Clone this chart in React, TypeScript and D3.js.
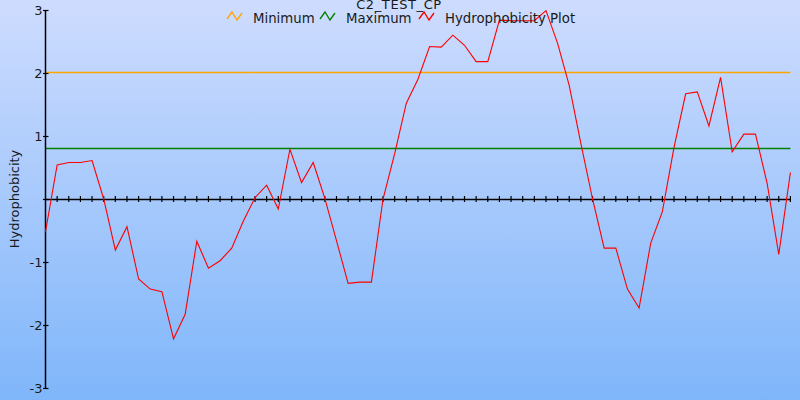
import React from "react";
import * as d3 from "d3";

const title = "C2_TEST_CP";
const yLabel = "Hydrophobicity";
const legendNames = ["Minimum", "Maximum", "Hydrophobicity Plot"];
const minimumValue = 2.0;
const maximumValue = 0.8;
const hydrophobicity = [
  -0.52, 0.54, 0.58, 0.58, 0.61, 0.0, -0.81, -0.44, -1.27, -1.43,
  -1.47, -2.22, -1.83, -0.67, -1.1, -0.98, -0.78, -0.35, 0.02, 0.22,
  -0.16, 0.79, 0.26, 0.58, 0.01, -0.66, -1.34, -1.32, -1.32, 0.0,
  0.72, 1.52, 1.9, 2.42, 2.41, 2.6, 2.44, 2.18, 2.18, 2.84,
  2.83, 2.83, 2.83, 2.99, 2.47, 1.8, 0.88, 0.0, -0.78, -0.78,
  -1.43, -1.73, -0.7, -0.2, 0.82, 1.67, 1.7, 1.16, 1.93, 0.75,
  1.03, 1.03, 0.25, -0.88, 0.42,
];
const yTicks = [-3, -2, -1, 0, 1, 2, 3];

const W = 800;
const H = 400;
const FONT = "DejaVu Sans, sans-serif";

export default function App() {
  const x = d3.scaleLinear().domain([0, hydrophobicity.length - 1]).range([45.5, 790.4]);
  const y = d3.scaleLinear().domain([-3, 3]).range([388, 10]);
  const line = d3
    .line<number>()
    .x((_, i) => x(i))
    .y((d) => y(d));
  const xTickIdx = d3.range(1, hydrophobicity.length);
  const legendColors = ["#ffa500", "#008000", "#ff0000"];
  const legendX = [227, 320, 419];
  const zig = (x0: number) =>
    `M${x0},19 L${x0 + 5},12 L${x0 + 10},20 L${x0 + 15},13`;
  const ry = (v: number) => Math.round(y(v)) + 0.5;

  return (
    <div style={{ position: "fixed", left: 0, top: 0 }}>
      <svg width={W} height={H} style={{ display: "block" }}>
        <defs>
          <linearGradient id="bg" x1="0" y1="0" x2="0" y2="1">
            <stop offset="0" stopColor="#cedcfe" />
            <stop offset="1" stopColor="#7fb6fa" />
          </linearGradient>
        </defs>
        <rect x={0} y={0} width={W} height={H} fill="url(#bg)" />

        {/* reference lines */}
        <line x1={x(0)} x2={x(hydrophobicity.length - 1)} y1={ry(minimumValue) - 1} y2={ry(minimumValue) - 1} stroke="#ffa500" strokeWidth={1.3} />
        <line x1={x(0)} x2={x(hydrophobicity.length - 1)} y1={ry(maximumValue) - 1} y2={ry(maximumValue) - 1} stroke="#008000" strokeWidth={1.3} />

        {/* y axis */}
        <line x1={x(0)} x2={x(0)} y1={y(3)} y2={y(-3)} stroke="#000" strokeWidth={1.5} />
        {yTicks.map((t) => (
          <g key={t}>
            <line x1={x(0) - 2.5} x2={x(0) + 3} y1={ry(t)} y2={ry(t)} stroke="#000" strokeWidth={1.2} />
            {t !== 0 && (
              <text x={x(0) - 3} y={y(t)} dy="0.36em" textAnchor="end" fontFamily={FONT} fontSize={13} fill="#1a1a1a">
                {t}
              </text>
            )}
          </g>
        ))}

        {/* x axis at zero */}
        <line x1={x(0)} x2={x(hydrophobicity.length - 1)} y1={ry(0)} y2={ry(0)} stroke="#000" strokeWidth={1.5} />
        {xTickIdx.map((i) => (
          <line key={i} x1={x(i)} x2={x(i)} y1={y(0) - 3} y2={y(0) + 3} stroke="#000" strokeWidth={1.2} />
        ))}

        {/* data */}
        <path d={line(hydrophobicity) || ""} fill="none" stroke="#ff0000" strokeWidth={1.1} />

        {/* y label */}
        <text transform={`translate(19,${y(0)}) rotate(-90)`} textAnchor="middle" fontFamily={FONT} fontSize={13} fill="#1a1a1a">
          {yLabel}
        </text>

        {/* title */}
        <text x={399} y={8.5} textAnchor="middle" fontFamily={FONT} fontSize={13} letterSpacing={0.6} fill="#1a1a1a">
          {title}
        </text>

        {/* legend */}
        {legendNames.map((n, i) => (
          <g key={n}>
            <path d={zig(legendX[i])} fill="none" stroke={legendColors[i]} strokeWidth={1.3} />
            <text x={legendX[i] + 26} y={22.5} fontFamily={FONT} fontSize={13.3} fill="#1a1a1a">
              {n}
            </text>
          </g>
        ))}
      </svg>
    </div>
  );
}
